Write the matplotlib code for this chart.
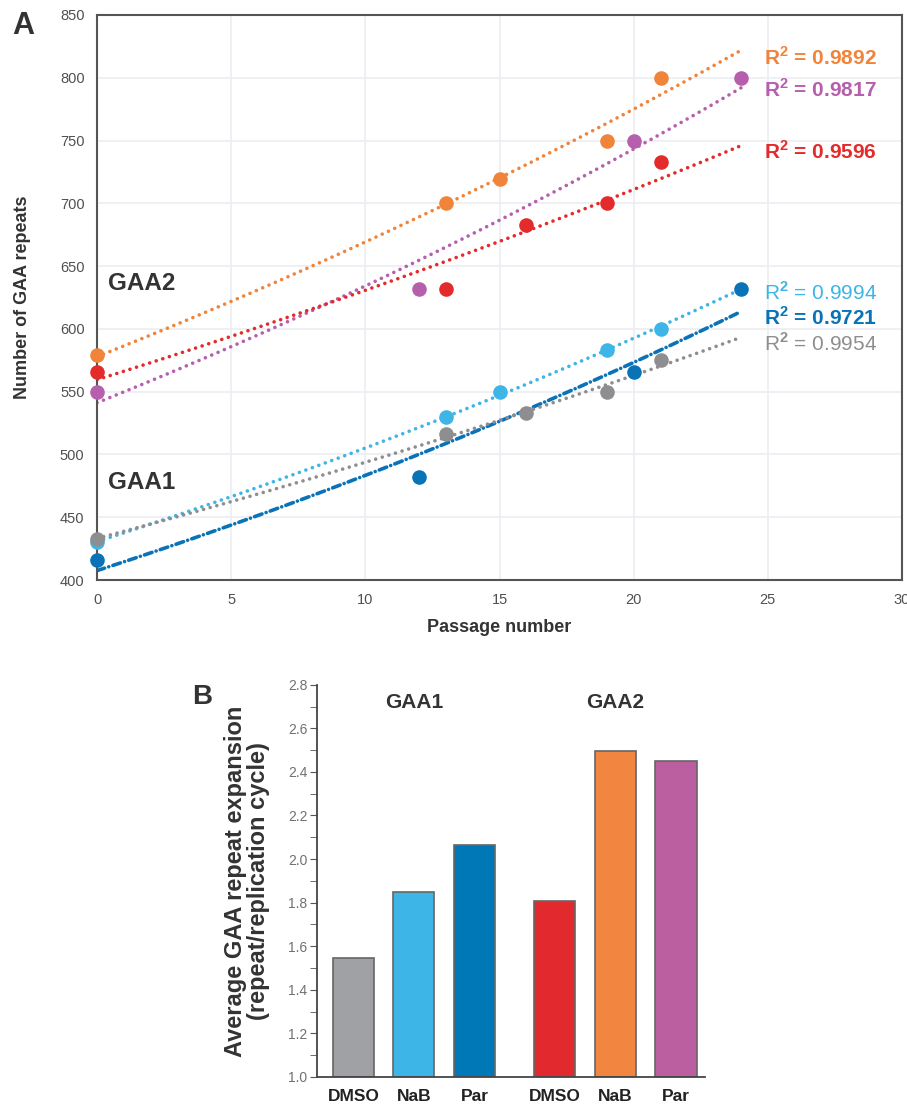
import numpy as np
import matplotlib
matplotlib.use("Agg")
import matplotlib.pyplot as plt
from matplotlib.ticker import MultipleLocator

plt.rcParams["font.family"] = ["Liberation Sans", "DejaVu Sans"]
plt.rcParams["mathtext.fontset"] = "custom"
plt.rcParams["mathtext.rm"] = "Liberation Sans"
plt.rcParams["mathtext.bf"] = "Liberation Sans:bold"

# panel A: repeat length vs passage
gaa2_nab_x = [0, 13, 15, 19, 21]
gaa2_nab_y = [579, 700, 719, 750, 800]
gaa2_par_x = [0, 12, 20, 24]
gaa2_par_y = [550, 632, 750, 800]
gaa2_dmso_x = [0, 13, 16, 19, 21]
gaa2_dmso_y = [566, 632, 683, 700, 733]
gaa1_nab_x = [0, 13, 15, 19, 21]
gaa1_nab_y = [430, 530, 550, 583, 600]
gaa1_par_x = [0, 12, 20, 24]
gaa1_par_y = [416, 482, 566, 632]
gaa1_dmso_x = [0, 13, 16, 19, 21]
gaa1_dmso_y = [433, 516, 533, 550, 575]
r2_labels = ["0.9892", "0.9817", "0.9596", "0.9994", "0.9721", "0.9954"]
r2_ypos = [816, 791, 741, 629, 609, 588]

# panel B: average expansion per cycle
bar_labels = ["DMSO", "NaB", "Par", "DMSO", "NaB", "Par"]
bar_values = [1.544, 1.849, 2.066, 1.806, 2.496, 2.449]

c_orange = "#f0843a"
c_purple = "#b65fad"
c_red = "#e32b2b"
c_lblue = "#3db5e6"
c_dblue = "#0a73b8"
c_gray = "#8e8e91"

fig = plt.figure(figsize=(9.07, 11.08), dpi=100)

ax = fig.add_axes([0.107, 0.4765, 0.8875, 0.51])
dots = (0, (0.01, 1.9))
series = [
    (gaa2_nab_x, gaa2_nab_y, c_orange, dots, "bold"),
    (gaa2_par_x, gaa2_par_y, c_purple, dots, "bold"),
    (gaa2_dmso_x, gaa2_dmso_y, c_red, dots, "bold"),
    (gaa1_nab_x, gaa1_nab_y, c_lblue, dots, "normal"),
    (gaa1_par_x, gaa1_par_y, c_dblue, (0, (2.2, 1.2, 0.01, 1.2)), "bold"),
    (gaa1_dmso_x, gaa1_dmso_y, c_gray, dots, "normal"),
]
xfit = np.linspace(0, 24, 100)
for (xs, ys, col, ls, wt), lab, ly in zip(series, r2_labels, r2_ypos):
    xs = np.array(xs, dtype=float)
    ys = np.array(ys, dtype=float)
    # exponential trendline
    k, b = np.polyfit(xs, np.log(ys), 1)
    ax.plot(xfit, np.exp(b + k * xfit), color=col, lw=2.6, ls=ls,
            dash_capstyle="round", solid_capstyle="round", zorder=2)
    ax.plot(xs, ys, "o", color=col, ms=10.5, mec="none", zorder=3,
            clip_on=False)
    ax.text(24.85, ly, r"R$^{\mathbf{2}}$ = " + lab, color=col, fontsize=15,
            fontweight=wt, va="center", ha="left")

ax.text(0.4, 636, "GAA2", fontsize=17.5, fontweight="bold", color="#333333",
        va="center")
ax.text(0.4, 478, "GAA1", fontsize=17.5, fontweight="bold", color="#333333",
        va="center")

ax.set_xlim(0, 30)
ax.set_ylim(400, 850)
ax.xaxis.set_major_locator(MultipleLocator(5))
ax.yaxis.set_major_locator(MultipleLocator(50))
ax.grid(True, color="#eceef1", lw=1.2)
ax.set_axisbelow(True)
for s in ax.spines.values():
    s.set_color("#555555")
    s.set_linewidth(1.5)
ax.tick_params(length=0, labelsize=10.5, labelcolor="#505050", pad=9)
ax.set_xlabel("Passage number", fontsize=13, fontweight="bold",
              color="#333333", labelpad=9)
ax.set_ylabel("Number of GAA repeats", fontsize=13, fontweight="bold",
              color="#333333", labelpad=21)
fig.text(0.013, 0.969, "A", fontsize=22, fontweight="bold", color="#333333")

# panel B
bx = fig.add_axes([0.3495, 0.028, 0.4278, 0.354])
pos = [0, 1, 2, 3.33, 4.33, 5.33]
bar_colors = ["#a0a1a5", "#3db5e6", "#0077b6", "#e2292e", "#f28640", "#bb5fa0"]
bx.bar(pos, [v - 1.0 for v in bar_values], bottom=1.0, width=0.68,
       color=bar_colors, edgecolor="#666666", lw=1.2)
bx.set_ylim(1.0, 2.8)
bx.set_xlim(-0.6, 5.81)
bx.yaxis.set_major_locator(MultipleLocator(0.2))
bx.yaxis.set_minor_locator(MultipleLocator(0.1))
bx.yaxis.set_major_formatter(matplotlib.ticker.FormatStrFormatter("%.1f"))
bx.set_xticks(pos)
bx.set_xticklabels(bar_labels, fontsize=12.5, fontweight="bold",
                   color="#222222")
bx.tick_params(axis="x", length=0, pad=9)
bx.tick_params(axis="y", which="major", length=5, labelsize=10,
               labelcolor="#707070", color="#555555", pad=2)
bx.tick_params(axis="y", which="minor", length=5, color="#555555")
for side in ["top", "right"]:
    bx.spines[side].set_visible(False)
for side in ["left", "bottom"]:
    bx.spines[side].set_color("#444444")
    bx.spines[side].set_linewidth(1.3)
bx.text(1, 2.72, "GAA1", ha="center", va="center", fontsize=15,
        fontweight="bold", color="#333333")
bx.text(4.33, 2.72, "GAA2", ha="center", va="center", fontsize=15,
        fontweight="bold", color="#333333")
bx.set_ylabel("Average GAA repeat expansion\n(repeat/replication cycle)",
              fontsize=17, fontweight="bold", color="#333333", labelpad=13,
              linespacing=1.0)
fig.text(0.212, 0.365, "B", fontsize=20, fontweight="bold", color="#333333")

fig.savefig("out.png", dpi=100)
